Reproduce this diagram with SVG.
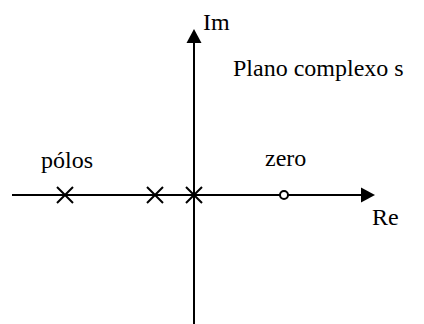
<svg xmlns="http://www.w3.org/2000/svg" width="424" height="324" viewBox="0 0 424 324">
<style>
.ax{stroke:#000;stroke-width:2;fill:none}
.x{stroke:#000;stroke-width:2;fill:none}
text{font-family:'Liberation Serif','DejaVu Serif',serif;font-size:24px;fill:#000}
</style>
<rect width="424" height="324" fill="#fff"/>
<g id="connectors">
<line class="ax" x1="194" y1="324" x2="194" y2="42"/>
<polygon points="194,29 186.5,43 201.5,43" fill="#000"/>
<line class="ax" x1="12" y1="195" x2="362" y2="195"/>
<polygon points="375,195 361,187.5 361,202.5" fill="#000"/>
</g>
<g id="pole1"><path class="x" d="M57,187 L73,203 M57,203 L73,187"/></g>
<g id="pole2"><path class="x" d="M147,187 L163,203 M147,203 L163,187"/></g>
<g id="pole3"><path class="x" d="M186,187 L202,203 M186,203 L202,187"/></g>
<g id="zero"><circle cx="284" cy="195" r="4" fill="#fff" stroke="#000" stroke-width="2"/></g>
<g id="labels" font-family="Liberation Serif, serif">
<text x="203" y="30">Im</text>
<text x="233" y="76">Plano complexo s</text>
<text x="41" y="168">pólos</text>
<text x="265" y="166">zero</text>
<text x="372" y="225">Re</text>
</g>
</svg>
